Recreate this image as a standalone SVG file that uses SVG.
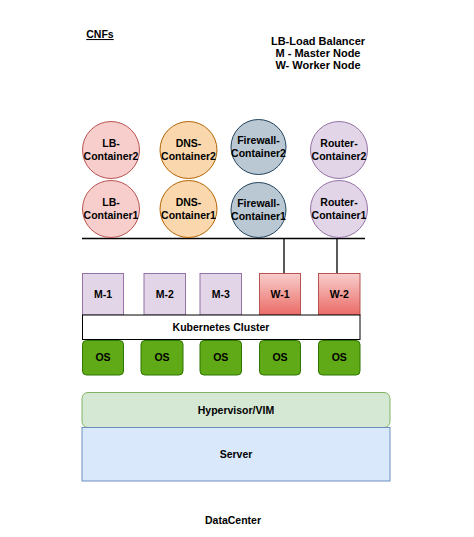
<svg xmlns="http://www.w3.org/2000/svg" width="474" height="537" viewBox="0 0 474 537">
<style>
text{font-family:"Liberation Sans",Arial,sans-serif;font-weight:bold;font-size:10.5px;fill:#000;text-anchor:middle}
.lb{fill:#f8cecc;stroke:#b85450}
.dns{fill:#fad7ac;stroke:#b46504}
.fw{fill:#bac8d3;stroke:#23445d}
.rt{fill:#e1d5e7;stroke:#9673a6}
.m{fill:#e1d5e7;stroke:#9673a6}
.w{fill:url(#wg);stroke:#b85450}
.os{fill:#60a917;stroke:#2d7600}
.leg{font-size:11px}
</style>
<defs>
<linearGradient id="wg" x1="0" y1="0" x2="0" y2="1">
<stop offset="0" stop-color="#f8cecc"/>
<stop offset="1" stop-color="#ea6b66"/>
</linearGradient>
</defs>
<rect width="474" height="537" fill="#fff"/>
<g id="title">
<text x="100" y="38" style="text-decoration:underline">CNFs</text>
</g>
<g id="legend">
<text class="leg" x="318" y="45">LB-Load Balancer</text>
<text class="leg" x="318" y="57">M - Master Node</text>
<text class="leg" x="318" y="69">W- Worker Node</text>
</g>
<g id="connectors" fill="none" stroke="#000" stroke-width="1.3">
<line x1="82" y1="238.5" x2="365" y2="238.5"/>
<line x1="284" y1="238.5" x2="284" y2="273"/>
<line x1="337" y1="238.5" x2="337" y2="273"/>
</g>
<g id="lb2"><circle class="lb" cx="111" cy="150" r="28.5"/><text x="111" y="147">LB-</text><text x="111" y="160">Container2</text></g>
<g id="lb1"><circle class="lb" cx="111" cy="209" r="28.5"/><text x="111" y="206">LB-</text><text x="111" y="219">Container1</text></g>
<g id="dns2"><circle class="dns" cx="188.5" cy="150" r="28.5"/><text x="188.5" y="147">DNS-</text><text x="188.5" y="160">Container2</text></g>
<g id="dns1"><circle class="dns" cx="188.5" cy="209" r="28.5"/><text x="188.5" y="206">DNS-</text><text x="188.5" y="219">Container1</text></g>
<g id="fw2"><circle class="fw" cx="258.5" cy="147" r="27.5"/><text x="258.5" y="144">Firewall-</text><text x="258.5" y="157">Container2</text></g>
<g id="fw1"><circle class="fw" cx="258.5" cy="210" r="27.5"/><text x="258.5" y="207">Firewall-</text><text x="258.5" y="220">Container1</text></g>
<g id="rt2"><circle class="rt" cx="339" cy="150" r="28.5"/><text x="339" y="147">Router-</text><text x="339" y="160">Container2</text></g>
<g id="rt1"><circle class="rt" cx="339" cy="209" r="28.5"/><text x="339" y="206">Router-</text><text x="339" y="219">Container1</text></g>
<g id="m1"><rect class="m" x="82.5" y="273.5" width="41" height="41.5"/><text x="103" y="298">M-1</text></g>
<g id="m2"><rect class="m" x="144" y="273.5" width="41.5" height="41.5"/><text x="164.75" y="298">M-2</text></g>
<g id="m3"><rect class="m" x="200" y="273.5" width="41.5" height="41.5"/><text x="220.75" y="298">M-3</text></g>
<g id="w1"><rect class="w" x="259.5" y="273.5" width="41" height="41.5"/><text x="280" y="298">W-1</text></g>
<g id="w2"><rect class="w" x="318.5" y="273.5" width="41.5" height="41.5"/><text x="339.25" y="298">W-2</text></g>
<g id="k8s"><rect x="82.5" y="315" width="277.5" height="24.5" fill="#fff" stroke="#000"/><text x="221" y="331">Kubernetes Cluster</text></g>
<g id="os1"><rect class="os" x="82.5" y="340.5" width="41" height="34.5" rx="4"/><text x="103" y="361">OS</text></g>
<g id="os2"><rect class="os" x="141" y="340.5" width="42" height="34.5" rx="4"/><text x="162" y="361">OS</text></g>
<g id="os3"><rect class="os" x="200" y="340.5" width="41.5" height="34.5" rx="4"/><text x="220.75" y="361">OS</text></g>
<g id="os4"><rect class="os" x="259.5" y="340.5" width="41" height="34.5" rx="4"/><text x="280" y="361">OS</text></g>
<g id="os5"><rect class="os" x="318.5" y="340.5" width="41.5" height="34.5" rx="4"/><text x="339.25" y="361">OS</text></g>
<g id="hypervisor"><rect x="82" y="392.5" width="308" height="35" rx="6" fill="#d5e8d4" stroke="#82b366"/><text x="236" y="414">Hypervisor/VIM</text></g>
<g id="server"><rect x="82" y="427.5" width="308" height="53.5" fill="#dae8fc" stroke="#6c8ebf"/><text x="236" y="458">Server</text></g>
<g id="datacenter"><text x="233" y="524">DataCenter</text></g>
</svg>
